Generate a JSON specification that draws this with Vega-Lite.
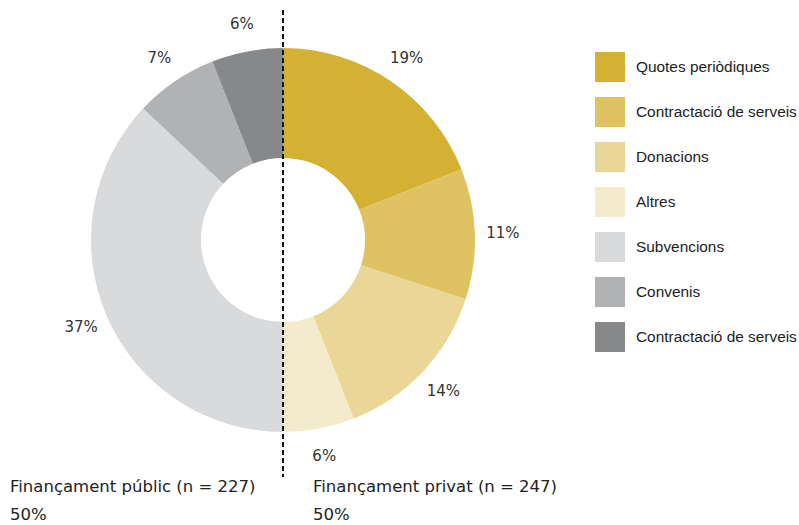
{
  "$schema": "https://vega.github.io/schema/vega-lite/v6.json",
  "width": 566,
  "height": 467,
  "autosize": "none",
  "padding": {"left": 0, "top": 10, "right": 233, "bottom": 48},
  "config": {
    "view": {"stroke": null},
    "font": "DejaVu Sans",
    "text": {"font": "DejaVu Sans"}
  },
  "layer": [
    {
      "data": {
        "values": [
          {"idx": 1, "categoria": "Quotes periòdiques", "pct": 19, "etiqueta": "19%"},
          {"idx": 2, "categoria": "Contractació de serveis", "pct": 11, "etiqueta": "11%"},
          {"idx": 3, "categoria": "Donacions", "pct": 14, "etiqueta": "14%"},
          {"idx": 4, "categoria": "Altres", "pct": 6, "etiqueta": "6%"},
          {"idx": 5, "categoria": "Subvencions", "pct": 37, "etiqueta": "37%"},
          {"idx": 6, "categoria": "Convenis", "pct": 7, "etiqueta": "7%"},
          {"idx": 7, "categoria": "Contractació de serveis (públic)", "pct": 6, "etiqueta": "6%"}
        ]
      },
      "layer": [
        {
          "mark": {"type": "arc", "innerRadius": 82, "outerRadius": 192, "yOffset": -3.5},
          "encoding": {
            "theta": {"field": "pct", "type": "quantitative", "stack": true},
            "order": {"field": "idx", "type": "quantitative"},
            "color": {
              "field": "categoria",
              "type": "nominal",
              "scale": {
                "domain": ["Quotes periòdiques", "Contractació de serveis", "Donacions", "Altres", "Subvencions", "Convenis", "Contractació de serveis (públic)"],
                "range": ["#D4B033", "#DFC262", "#EAD797", "#F4EBCD", "#D9DADC", "#B1B2B4", "#87888A"]
              },
              "legend": {
                "orient": "none",
                "legendX": 595,
                "legendY": 42,
                "title": null,
                "symbolType": "square",
                "symbolSize": 900,
                "symbolStrokeWidth": 0,
                "symbolOpacity": 1,
                "rowPadding": 15,
                "labelOffset": 11,
                "labelFontSize": 15.4,
                "labelFont": "Liberation Sans",
                "labelColor": "#222222",
                "labelLimit": 300,
                "labelExpr": "replace(datum.label, ' (públic)', '')"
              }
            }
          }
        },
        {
          "mark": {"type": "text", "radius": 220, "fontSize": 15, "yOffset": -3.5, "color": "#333333"},
          "encoding": {
            "theta": {"field": "pct", "type": "quantitative", "stack": true},
            "order": {"field": "idx", "type": "quantitative"},
            "text": {"field": "etiqueta", "type": "nominal"}
          }
        }
      ]
    },
    {
      "data": {"values": [{}]},
      "mark": {"type": "rule", "strokeDash": [5, 3], "strokeWidth": 2, "color": "#111111"},
      "encoding": {"x": {"value": {"expr": "width/2"}}}
    },
    {
      "data": {
        "values": [
          {"grup": "públic", "text": "Finançament públic (n = 227)\n50%"},
          {"grup": "privat", "text": "Finançament privat (n = 247)\n50%"}
        ]
      },
      "mark": {"type": "text", "align": "left", "baseline": "top", "fontSize": 16.5, "lineHeight": 28, "lineBreak": "\n", "dy": 1.5, "color": "#222222"},
      "encoding": {
        "x": {"field": "grup", "type": "nominal", "scale": {"type": "point", "padding": 0, "domain": ["públic", "privat"], "range": [10, 313]}, "axis": null},
        "y": {"value": {"expr": "height"}},
        "text": {"field": "text", "type": "nominal"}
      }
    }
  ]
}
